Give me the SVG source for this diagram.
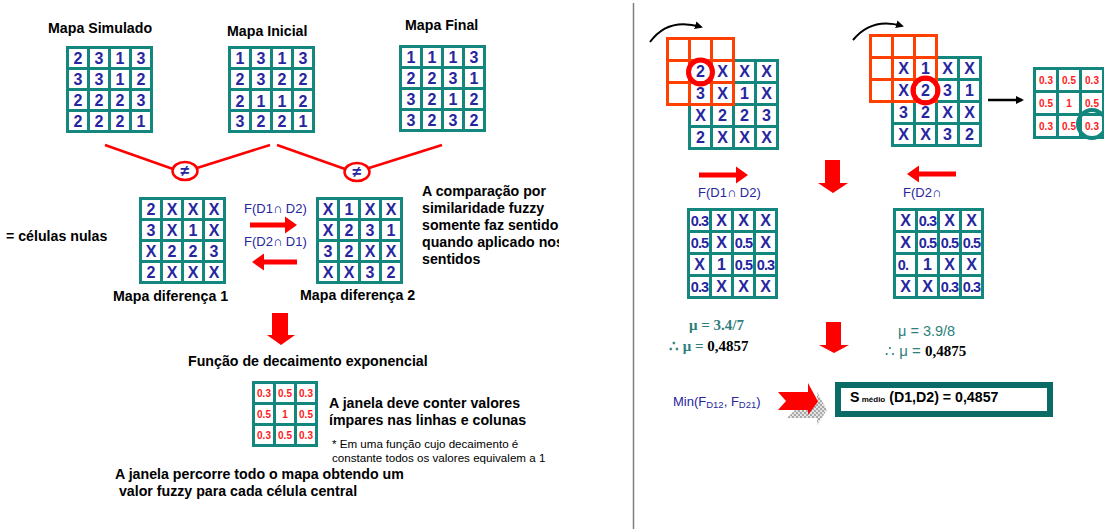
<svg xmlns="http://www.w3.org/2000/svg" xmlns:xlink="http://www.w3.org/1999/xlink" width="1104" height="529" viewBox="0 0 1104 529">
<style>
.t{font-family:"Liberation Sans",Arial,sans-serif;font-weight:bold;font-size:14.2px;fill:#000}
.s{font-family:"Liberation Sans",Arial,sans-serif;font-size:11.6px;fill:#000}
.d{font-family:"Liberation Sans",Arial,sans-serif;font-weight:bold;font-size:16px;fill:#2626a0;text-anchor:middle}
.f{font-family:"Liberation Sans",Arial,sans-serif;font-weight:bold;font-size:14.5px;fill:#2626a0;text-anchor:middle;letter-spacing:-0.9px}
.r{font-family:"Liberation Sans",Arial,sans-serif;font-weight:bold;font-size:10px;fill:#ff1a1a;text-anchor:middle}
.b{font-family:"Liberation Sans","DejaVu Sans",sans-serif;font-size:13px;fill:#2626a0}
.ra{fill:#ff0000}
.teal{fill:#13877e}
.w{fill:#fff}
</style>
<defs>
<g id="g4a"><rect width="87" height="87" class="teal"/><path class="w" d="M3 3h18v18h-18zM24 3h18v18h-18zM45 3h18v18h-18zM66 3h18v18h-18zM3 24h18v18h-18zM24 24h18v18h-18zM45 24h18v18h-18zM66 24h18v18h-18zM3 45h18v18h-18zM24 45h18v18h-18zM45 45h18v18h-18zM66 45h18v18h-18zM3 66h18v18h-18zM24 66h18v18h-18zM45 66h18v18h-18zM66 66h18v18h-18z"/></g>
<g id="g4b"><rect width="91" height="91" class="teal"/><path class="w" d="M3 3h19v19h-19zM25 3h19v19h-19zM47 3h19v19h-19zM69 3h19v19h-19zM3 25h19v19h-19zM25 25h19v19h-19zM47 25h19v19h-19zM69 25h19v19h-19zM3 47h19v19h-19zM25 47h19v19h-19zM47 47h19v19h-19zM69 47h19v19h-19zM3 69h19v19h-19zM25 69h19v19h-19zM47 69h19v19h-19zM69 69h19v19h-19z"/></g>
<g id="g3o"><rect width="69" height="69" fill="#ff4000"/><path class="w" d="M3 3h19v19h-19zM25 3h19v19h-19zM47 3h19v19h-19zM3 25h19v19h-19zM25 25h19v19h-19zM47 25h19v19h-19zM3 47h19v19h-19zM25 47h19v19h-19zM47 47h19v19h-19z"/></g>
<marker id="ah" markerWidth="8" markerHeight="8" refX="6" refY="4" orient="auto" markerUnits="userSpaceOnUse"><path d="M0 0L8 4L0 8z" fill="#000"/></marker>
<pattern id="chk" width="4" height="4" patternUnits="userSpaceOnUse"><rect width="4" height="4" fill="#e4e4e4"/><rect width="2" height="2" fill="#a8a8a8"/><rect x="2" y="2" width="2" height="2" fill="#a8a8a8"/></pattern>
<clipPath id="clipR"><rect x="0" y="0" width="559" height="529"/></clipPath>
</defs>

<line x1="633.5" y1="3" x2="633.5" y2="529" stroke="#808080" stroke-width="1.5"/>

<g id="mapa-simulado">
<text class="t" x="48" y="33">Mapa Simulado</text>
<use xlink:href="#g4a" x="66" y="46"/>
<g class="d">
<text x="78" y="63.8">2</text><text x="99" y="63.8">3</text><text x="120" y="63.8">1</text><text x="141" y="63.8">3</text>
<text x="78" y="84.8">3</text><text x="99" y="84.8">3</text><text x="120" y="84.8">1</text><text x="141" y="84.8">2</text>
<text x="78" y="105.8">2</text><text x="99" y="105.8">2</text><text x="120" y="105.8">2</text><text x="141" y="105.8">3</text>
<text x="78" y="126.8">2</text><text x="99" y="126.8">2</text><text x="120" y="126.8">2</text><text x="141" y="126.8">1</text>
</g>
</g>

<g id="mapa-inicial">
<text class="t" x="227" y="36">Mapa Inicial</text>
<use xlink:href="#g4a" x="228" y="46"/>
<g class="d">
<text x="240" y="63.8">1</text><text x="261" y="63.8">3</text><text x="282" y="63.8">1</text><text x="303" y="63.8">3</text>
<text x="240" y="84.8">2</text><text x="261" y="84.8">3</text><text x="282" y="84.8">2</text><text x="303" y="84.8">2</text>
<text x="240" y="106.8">2</text><text x="261" y="106.8">1</text><text x="282" y="106.8">1</text><text x="303" y="106.8">2</text>
<text x="240" y="126.8">3</text><text x="261" y="126.8">2</text><text x="282" y="126.8">2</text><text x="303" y="126.8">1</text>
</g>
</g>

<g id="mapa-final">
<text class="t" x="405" y="30">Mapa Final</text>
<use xlink:href="#g4a" x="399" y="45"/>
<g class="d">
<text x="411" y="62.8">1</text><text x="432" y="62.8">1</text><text x="453" y="62.8">1</text><text x="474" y="62.8">3</text>
<text x="411" y="83.8">2</text><text x="432" y="83.8">2</text><text x="453" y="83.8">3</text><text x="474" y="83.8">1</text>
<text x="411" y="104.8">3</text><text x="432" y="104.8">2</text><text x="453" y="104.8">1</text><text x="474" y="104.8">2</text>
<text x="411" y="125.8">3</text><text x="432" y="125.8">2</text><text x="453" y="125.8">3</text><text x="474" y="125.8">2</text>
</g>
</g>

<g id="connectors">
<polyline points="105,145 173,169" fill="none" stroke="#ff0000" stroke-width="2.5"/>
<polyline points="197,168 270,145" fill="none" stroke="#ff0000" stroke-width="2.5"/>
<polyline points="277,145 345,169" fill="none" stroke="#ff0000" stroke-width="2.5"/>
<polyline points="369,168 442,145" fill="none" stroke="#ff0000" stroke-width="2.5"/>
<ellipse cx="185" cy="171" rx="12.5" ry="9" fill="#fff" stroke="#ff0000" stroke-width="2.5"/>
<ellipse cx="357" cy="172" rx="12.5" ry="9" fill="#fff" stroke="#ff0000" stroke-width="2.5"/>
<path class="ra" d="M250 222.5h35v-6l12 8.5-12 8.5v-6h-35z"/>
<path class="ra" d="M297 259.5h-33v-6l-12 8.5 12 8.5v-6h33z"/>
<path class="ra" d="M272 313h16v22h7l-14 10-14-10h5z"/>
<path class="ra" d="M699 172.5h37v-6l12 8.5-12 8.5v-6h-37z"/>
<path class="ra" d="M956 171.5h-37v-6l-12 8.5 12 8.5v-6h37z"/>
<path class="ra" d="M825 160h15v23h8l-15 10-15-10h7z"/>
<path class="ra" d="M826 322h15v23h8l-15 8-15-8h7z"/>
<path d="M650 42Q668 17 701 27" fill="none" stroke="#000" stroke-width="2" marker-end="url(#ah)"/>
<path d="M853 40Q872 17 902 26" fill="none" stroke="#000" stroke-width="2" marker-end="url(#ah)"/>
<line x1="988" y1="100" x2="1022" y2="100" stroke="#000" stroke-width="2.5" marker-end="url(#ah)"/>
<path fill="url(#chk)" d="M787 401h30v-9l10 18-10 15v-7h-30l8-8z"/>
<path class="ra" d="M778 392h30v-9l10 18.5-10 13.5v-5h-30l8-9z"/>
</g>
<text class="d" x="185" y="176" font-size="13">≠</text>
<text class="d" x="357" y="177" font-size="13">≠</text>

<text class="t" x="6" y="241">= células nulas</text>

<g id="mapa-diferenca-1">
<use xlink:href="#g4a" x="139" y="197"/>
<g class="d">
<text x="151" y="214.8">2</text><text x="172" y="214.8">X</text><text x="193" y="214.8">X</text><text x="214" y="214.8">X</text>
<text x="151" y="235.8">3</text><text x="172" y="235.8">X</text><text x="193" y="235.8">1</text><text x="214" y="235.8">X</text>
<text x="151" y="256.8">X</text><text x="172" y="256.8">2</text><text x="193" y="256.8">2</text><text x="214" y="256.8">3</text>
<text x="151" y="277.8">2</text><text x="172" y="277.8">X</text><text x="193" y="277.8">X</text><text x="214" y="277.8">X</text>
</g>
<text class="t" x="113" y="301">Mapa diferença 1</text>
</g>

<g id="mapa-diferenca-2">
<use xlink:href="#g4a" x="316" y="197"/>
<g class="d">
<text x="328" y="214.8">X</text><text x="349" y="214.8">1</text><text x="370" y="214.8">X</text><text x="391" y="214.8">X</text>
<text x="328" y="235.8">X</text><text x="349" y="235.8">2</text><text x="370" y="235.8">3</text><text x="391" y="235.8">1</text>
<text x="328" y="256.8">3</text><text x="349" y="256.8">2</text><text x="370" y="256.8">X</text><text x="391" y="256.8">X</text>
<text x="328" y="277.8">X</text><text x="349" y="277.8">X</text><text x="370" y="277.8">3</text><text x="391" y="277.8">2</text>
</g>
<text class="t" x="300" y="300">Mapa diferença 2</text>
</g>

<text class="b" x="244" y="213">F(D1∩ D2)</text>
<text class="b" x="244" y="246">F(D2∩ D1)</text>

<g id="nota-comparacao" clip-path="url(#clipR)">
<text class="t" x="422" y="196">A comparação por</text>
<text class="t" x="422" y="213">similaridade fuzzy</text>
<text class="t" x="422" y="230">somente faz sentido</text>
<text class="t" x="422" y="247">quando aplicado nos</text>
<text class="t" x="422" y="264">sentidos</text>
</g>

<text class="t" x="188" y="366">Função de decaimento exponencial</text>

<g id="janela-esquerda">
<rect x="252" y="381" width="66" height="66" class="teal"/>
<path class="w" d="M255 384h18v18h-18zM276 384h18v18h-18zM297 384h18v18h-18zM255 405h18v18h-18zM276 405h18v18h-18zM297 405h18v18h-18zM255 426h18v18h-18zM276 426h18v18h-18zM297 426h18v18h-18z"/>
<g class="r">
<text x="264" y="396.5">0.3</text><text x="285" y="396.5">0.5</text><text x="306" y="396.5">0.3</text>
<text x="264" y="417.5">0.5</text><text x="285" y="417.5">1</text><text x="306" y="417.5">0.5</text>
<text x="264" y="438.5">0.3</text><text x="285" y="438.5">0.5</text><text x="306" y="438.5">0.3</text>
</g>
</g>
<text class="t" x="329" y="408">A janela deve conter valores</text>
<text class="t" x="329" y="425">ímpares nas linhas e colunas</text>
<text class="s" x="332" y="448">* Em uma função cujo decaimento é</text>
<text class="s" x="332" y="462">constante todos os valores equivalem a 1</text>
<text class="t" x="115" y="479">A janela percorre todo o mapa obtendo um</text>
<text class="t" x="115" y="496" xml:space="preserve"> valor fuzzy para cada célula central</text>

<g id="composicao-1">
<use xlink:href="#g4b" x="688" y="59"/>
<use xlink:href="#g3o" x="666" y="37"/>
<g class="d">
<text x="700.5" y="77.3">2</text><text x="722.5" y="77.3">X</text><text x="744.5" y="77.3">X</text><text x="766.5" y="77.3">X</text>
<text x="700.5" y="99.3">3</text><text x="722.5" y="99.3">X</text><text x="744.5" y="99.3">1</text><text x="766.5" y="99.3">X</text>
<text x="700.5" y="121.3">X</text><text x="722.5" y="121.3">2</text><text x="744.5" y="121.3">2</text><text x="766.5" y="121.3">3</text>
<text x="700.5" y="143.3">2</text><text x="722.5" y="143.3">X</text><text x="744.5" y="143.3">X</text><text x="766.5" y="143.3">X</text>
</g>
<circle cx="700.5" cy="72" r="12" fill="none" stroke="#ff0000" stroke-width="5"/>
</g>

<g id="composicao-2">
<use xlink:href="#g4b" x="891" y="56"/>
<use xlink:href="#g3o" x="869" y="34"/>
<g class="d">
<text x="903.5" y="74.3">X</text><text x="925.5" y="74.3">1</text><text x="947.5" y="74.3">X</text><text x="969.5" y="74.3">X</text>
<text x="903.5" y="96.3">X</text><text x="925.5" y="96.3">2</text><text x="947.5" y="96.3">3</text><text x="969.5" y="96.3">1</text>
<text x="903.5" y="118.3">3</text><text x="925.5" y="118.3">2</text><text x="947.5" y="118.3">X</text><text x="969.5" y="118.3">X</text>
<text x="903.5" y="140.3">X</text><text x="925.5" y="140.3">X</text><text x="947.5" y="140.3">3</text><text x="969.5" y="140.3">2</text>
</g>
<circle cx="925.5" cy="90.5" r="12.5" fill="none" stroke="#ff0000" stroke-width="5"/>
</g>

<g id="janela-direita">
<rect x="1033" y="67" width="72" height="72" class="teal"/>
<path class="w" d="M1036 70h20v20h-20zM1059 70h20v20h-20zM1082 70h20v20h-20zM1036 93h20v20h-20zM1059 93h20v20h-20zM1082 93h20v20h-20zM1036 116h20v20h-20zM1059 116h20v20h-20zM1082 116h20v20h-20z"/>
<g class="r" font-size="11">
<text x="1046" y="84">0.3</text><text x="1069" y="84">0.5</text><text x="1092" y="84">0.3</text>
<text x="1046" y="107">0.5</text><text x="1069" y="107">1</text><text x="1092" y="107">0.5</text>
<text x="1046" y="130">0.3</text><text x="1069" y="130">0.5</text><text x="1092" y="130">0.3</text>
</g>
<circle cx="1092" cy="124" r="14" fill="none" stroke="#13877e" stroke-width="4"/>
</g>

<text class="b" x="698" y="197">F(D1∩ D2)</text>
<text class="b" x="903" y="197">F(D2∩</text>

<g id="fuzzy-1">
<use xlink:href="#g4b" x="687" y="208"/>
<g class="f">
<text x="699.5" y="225.5">0.3</text><text x="699.5" y="247.5">0.5</text><text x="743.5" y="247.5">0.5</text><text x="743.5" y="269.5">0.5</text><text x="765.5" y="269.5">0.3</text><text x="699.5" y="291.5">0.3</text>
</g>
<g class="d">
<text x="721.5" y="226">X</text><text x="743.5" y="226">X</text><text x="765.5" y="226">X</text>
<text x="721.5" y="248">X</text><text x="765.5" y="248">X</text>
<text x="699.5" y="270">X</text><text x="721.5" y="270">1</text>
<text x="721.5" y="292">X</text><text x="743.5" y="292">X</text><text x="765.5" y="292">X</text>
</g>
</g>

<g id="fuzzy-2">
<use xlink:href="#g4b" x="893" y="208"/>
<g class="f">
<text x="927.5" y="225.5">0.3</text><text x="927.5" y="247.5">0.5</text><text x="949.5" y="247.5">0.5</text><text x="971.5" y="247.5">0.5</text><text x="903" y="269.5">0.</text><text x="949.5" y="291.5">0.3</text><text x="971.5" y="291.5">0.3</text>
</g>
<g class="d">
<text x="905.5" y="226">X</text><text x="949.5" y="226">X</text><text x="971.5" y="226">X</text>
<text x="905.5" y="248">X</text>
<text x="927.5" y="270">1</text><text x="949.5" y="270">X</text><text x="971.5" y="270">X</text>
<text x="905.5" y="292">X</text><text x="927.5" y="292">X</text>
</g>
</g>

<g id="mu-1" font-family="'Liberation Serif','Times New Roman',serif" font-weight="bold" font-size="15">
<text x="689" y="330" fill="#2e7f7c">μ = 3.4/7</text>
<text x="669" y="351" fill="#2e7f7c">∴ μ = <tspan fill="#000">0,4857</tspan></text>
</g>
<g id="mu-2">
<text x="898" y="336" font-family="'Liberation Sans',Arial,sans-serif" font-size="14.5" fill="#2e7f7c">μ = 3.9/8</text>
<text x="885" y="356" font-family="'Liberation Sans',Arial,sans-serif" font-size="15" fill="#2e7f7c">∴ μ = <tspan font-family="'Liberation Serif','Times New Roman',serif" font-weight="bold" fill="#000">0,4875</tspan></text>
</g>

<text class="b" x="673" y="406" font-size="14.5">Min(F<tspan font-size="9.5" dy="2">D12</tspan><tspan dy="-2">, F</tspan><tspan font-size="9.5" dy="2">D21</tspan><tspan dy="-2">)</tspan></text>

<g id="resultado">
<rect x="838" y="385" width="212" height="29" fill="#fff" stroke="#0b6b66" stroke-width="6"/>
<text class="t" x="850" y="402" font-size="14.6">S<tspan font-size="8"> médio</tspan> (D1,D2) = 0,4857</text>
</g>
</svg>
